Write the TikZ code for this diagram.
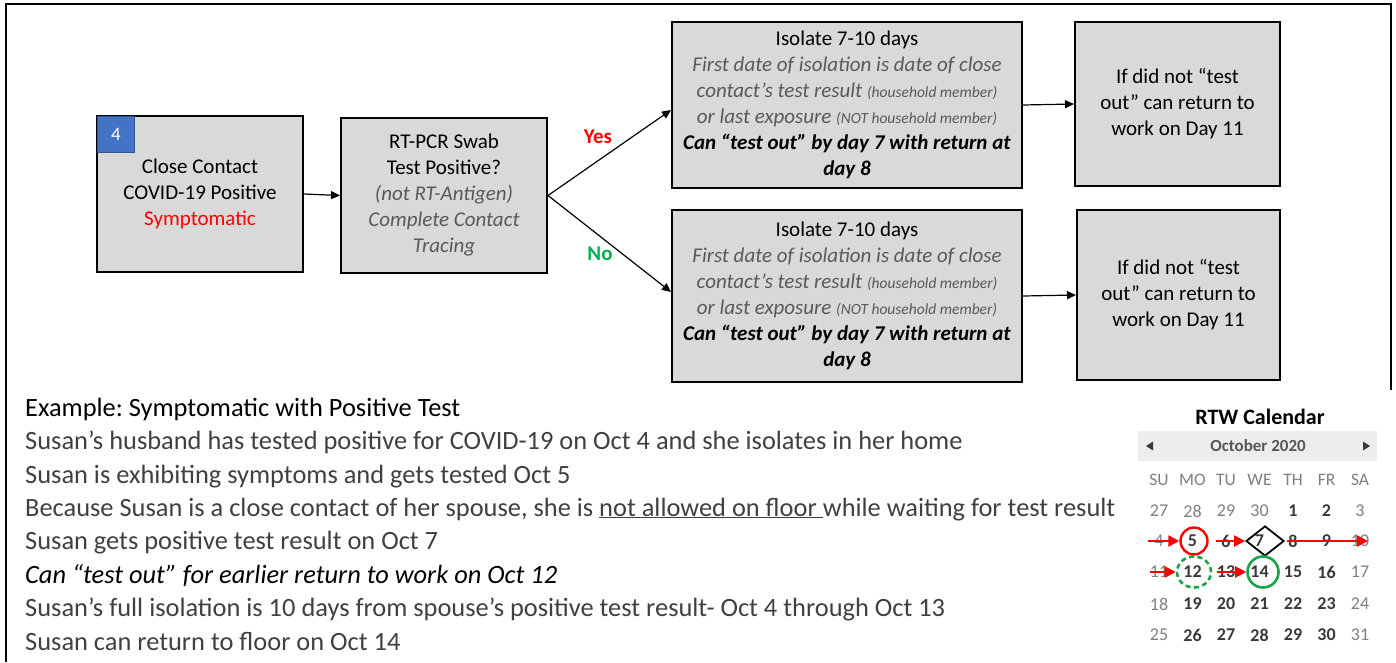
\documentclass[tikz,border=0pt]{standalone}
\usepackage{fontspec}
\setmainfont{Carlito}
\usetikzlibrary{arrows.meta,shapes.geometric}
\definecolor{boxgray}{HTML}{D9D9D9}
\definecolor{numblue}{HTML}{4472C4}
\definecolor{numblueedge}{HTML}{2F5597}
\definecolor{yesred}{HTML}{FF0000}
\definecolor{nogreen}{HTML}{00B050}
\definecolor{calgreen}{HTML}{1BA34A}
\definecolor{txtgray}{HTML}{595959}
\definecolor{exgray}{HTML}{404040}
\definecolor{calnorm}{HTML}{7F7F7F}
\definecolor{calbold}{HTML}{3A3A3A}
\frenchspacing
\tikzset{
  box/.style={draw=black, line width=2pt, fill=boxgray, align=center, inner sep=0pt,
    font=\fontsize{21}{26}\selectfont},
  conn/.style={line width=1.2pt, -{Triangle[length=9pt,width=8pt]}},
  extext/.style={anchor=base west, inner sep=0pt, text=exgray, font=\fontsize{26.4}{30}\selectfont},
  calhd/.style={inner sep=0pt, text=calnorm, font=\fontsize{17.5}{20}\selectfont},
  cal-n/.style={inner sep=0pt, text=calnorm, font=\fontsize{18}{20}\selectfont},
  cal-b/.style={inner sep=0pt, text=calbold, font=\fontsize{18}{20}\selectfont\bfseries},
  redarr/.style={draw=red, line width=2.2pt, -{Triangle[length=11pt,width=11pt]}},
}
\newcommand{\smallgray}[1]{{\fontsize{15.5}{26}\selectfont #1}}
\begin{document}
\begin{tikzpicture}[x=1pt,y=-1pt]
\useasboundingbox (0,0) rectangle (1396,662);
\fill[white] (0,0) rectangle (1396,662);
% outer frame
\draw[line width=2pt] (6,662) -- (6,4) -- (1391,4) -- (1391,390);

% flow boxes
\node[box, minimum width=206pt, minimum height=156pt] (c1) at (200,194)
  {Close Contact\\COVID-19 Positive\\\textcolor{yesred}{Symptomatic}};
\node[draw=numblueedge, line width=1pt, fill=numblue, text=white, inner sep=0pt,
  minimum width=37pt, minimum height=36pt, font=\fontsize{19}{22}\selectfont]
  (n4) at (116,134.5) {4};
\node[box, minimum width=206pt, minimum height=155pt] (c2) at (444,195.5)
  {RT-PCR Swab\\Test Positive?\\\textcolor{txtgray}{\itshape (not RT-Antigen)}\\
   \textcolor{txtgray}{\itshape Complete Contact}\\\textcolor{txtgray}{\itshape Tracing}};
\node[box, minimum width=350pt, minimum height=166pt] (iso1) at (847,105)
  {Isolate 7-10 days\\
   \textcolor{txtgray}{\itshape First date of isolation is date of close}\\
   \textcolor{txtgray}{\itshape contact’s test result \smallgray{(household member)}}\\
   \textcolor{txtgray}{\itshape or last exposure \smallgray{(NOT household member)}}\\
   \textbf{\itshape Can “test out” by day 7 with return at}\\
   \textbf{\itshape day 8}};
\node[box, minimum width=350pt, minimum height=172pt] (iso2) at (847,296)
  {Isolate 7-10 days\\
   \textcolor{txtgray}{\itshape First date of isolation is date of close}\\
   \textcolor{txtgray}{\itshape contact’s test result \smallgray{(household member)}}\\
   \textcolor{txtgray}{\itshape or last exposure \smallgray{(NOT household member)}}\\
   \textbf{\itshape Can “test out” by day 7 with return at}\\
   \textbf{\itshape day 8}};
\node[box, minimum width=205pt, minimum height=164pt] (ret1) at (1177.5,104)
  {If did not “test\\out” can return to\\work on Day 11};
\node[box, minimum width=203pt, minimum height=170pt] (ret2) at (1178.5,295)
  {If did not “test\\out” can return to\\work on Day 11};

% connectors
\draw[conn] (c1.east) -- (c2.west);
\draw[conn] (c2.east) -- ([yshift=-5pt]iso1.west);
\draw[conn] (c2.east) -- ([yshift=4pt]iso2.west);
\draw[conn] (iso1.east) -- (ret1.west);
\draw[conn] (iso2.east) -- (ret2.west);
\node[text=yesred, font=\fontsize{21}{24}\selectfont\bfseries, inner sep=0pt] (yes) at (598,137) {Yes};
\node[text=nogreen, font=\fontsize{21}{24}\selectfont\bfseries, inner sep=0pt] (no) at (600,254) {No};

% example text
\node[extext, text=black] (e1) at (25,416) {Example: Symptomatic with Positive Test};
\node[extext] (e2) at (25,449) {Susan’s husband has tested positive for COVID-19 on Oct 4 and she isolates in her home};
\node[extext] (e3) at (25,483) {Susan is exhibiting symptoms and gets tested Oct 5};
\node[extext] (e4) at (25,516) {Because Susan is a close contact of her spouse, she is \underline{not allowed on floor\ }while waiting for test result};
\node[extext] (e5) at (25,549) {Susan gets positive test result on Oct 7};
\node[extext, text=black, font=\fontsize{26.4}{30}\selectfont\itshape] (e6) at (25,583) {Can “test out” for earlier return to work on Oct 12};
\node[extext] (e7) at (25,616) {Susan’s full isolation is 10 days from spouse’s positive test result- Oct 4 through Oct 13};
\node[extext] (e8) at (25,650) {Susan can return to floor on Oct 14};

% calendar
\node[font=\fontsize{22}{26}\selectfont\bfseries, inner sep=0pt] (rtw) at (1260,417) {RTW Calendar};
\fill[black!7] (1138,431) rectangle (1377,461);
\node[font=\fontsize{17}{20}\selectfont\bfseries, text=calbold!85, inner sep=0pt] (month) at (1258,446) {October 2020};
\fill[calbold] (1146,446) -- (1153,441.5) -- (1153,450.5) -- cycle;
\fill[calbold] (1370,446) -- (1363,441.5) -- (1363,450.5) -- cycle;
\foreach \t [count=\i from 0] in {SU,MO,TU,WE,TH,FR,SA}
  \node[calhd] (hd\i) at (1159+33.5*\i,480) {\t};
\foreach \y/\row in {
  511/{27/n,28/n,29/n,30/n,1/b,2/b,3/n},
  541/{4/n,5/b,6/b,7/b,8/b,9/b,10/n},
  572/{11/n,12/b,13/b,14/b,15/b,16/b,17/n},
  604/{18/n,19/b,20/b,21/b,22/b,23/b,24/n},
  635/{25/n,26/b,27/b,28/b,29/b,30/b,31/n}}{
  \foreach \d/\w [count=\c from 0] in \row
    \node[cal-\w] (d\y-\c) at (1159+33.5*\c,\y) {\d};
}
% calendar marks
\node[circle, draw=red, line width=2.4pt, minimum size=27pt, inner sep=0pt] (k5) at (1194,541) {};
\node[diamond, draw=black, line width=1.8pt, minimum width=38pt, minimum height=30pt, inner sep=0pt] (k7) at (1265,541) {};
\node[ellipse, draw=calgreen, line width=2.6pt, dash pattern=on 5pt off 3.5pt,
  minimum width=34pt, minimum height=31pt, inner sep=0pt] (k12) at (1194,572) {};
\node[circle, draw=calgreen, line width=2.6pt, minimum size=31pt, inner sep=0pt] (k14) at (1263,572) {};
\coordinate (a1s) at (1148,541);
\coordinate (a2s) at (1216,541);
\coordinate (a3s) at (1287,541);
\coordinate (a3e) at (1368,541);
\coordinate (a4s) at (1150,572);
\coordinate (a5s) at (1217,572);
\draw[redarr] (a1s) -- (k5);
\draw[redarr] (a2s) -- (k7);
\draw[redarr] (a3s) -- (a3e);
\draw[redarr] (a4s) -- (k12);
\draw[redarr] (a5s) -- (k14);
\end{tikzpicture}
\end{document}
